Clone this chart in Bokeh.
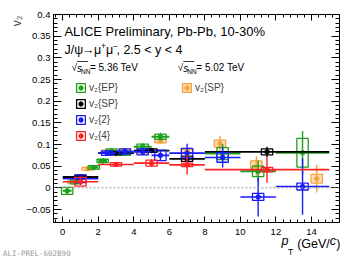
import numpy as np
from bokeh.plotting import figure
from bokeh.models import (Range1d, LinearAxis, FixedTicker, Label, Span, Legend,
                          LegendItem, CustomJSTickFormatter, Title)
from bokeh.embed import file_html
from bokeh.resources import INLINE

# ---------------- data ----------------
# v2{EP}, 5.36 TeV (green)
ep_x = [0.25, 0.75, 1.75, 2.25, 2.75, 3.5, 4.5, 5.5, 9.0, 11.0, 13.5]
ep_y = [-0.007, 0.014, 0.047, 0.062, 0.085, 0.080, 0.095, 0.118, 0.079, 0.038, 0.081]
ep_xerr = [0.25, 0.25, 0.25, 0.25, 0.25, 0.5, 0.5, 0.5, 1.0, 1.0, 1.5]
ep_stat = [0.009, 0.006, 0.005, 0.005, 0.006, 0.006, 0.008, 0.009, 0.022, 0.025, 0.05]
ep_syst = [0.008, 0.005, 0.004, 0.004, 0.005, 0.005, 0.006, 0.006, 0.014, 0.012, 0.033]

# v2{SP}, 5.36 TeV (black)
sp_x = [1.0, 3.0, 5.0, 7.0, 11.5]
sp_y = [0.025, 0.080, 0.086, 0.067, 0.083]
sp_xerr = [1.0, 1.0, 1.0, 1.0, 3.5]
sp_stat = [0.004, 0.004, 0.005, 0.010, 0.012]
sp_syst = [0.004, 0.004, 0.004, 0.006, 0.007]

# v2{2}, 5.36 TeV (blue)
c2_x = [1.0, 2.5, 3.5, 4.5, 5.5, 7.0, 9.0, 11.0, 13.5]
c2_y = [0.021, 0.080, 0.084, 0.083, 0.075, 0.080, 0.070, -0.021, 0.003]
c2_xerr = [1.0, 0.5, 0.5, 0.5, 0.5, 1.0, 1.0, 1.0, 1.5]
c2_stat = [0.006, 0.005, 0.006, 0.008, 0.012, 0.022, 0.023, 0.045, 0.065]
c2_syst = [0.009, 0.005, 0.006, 0.007, 0.012, 0.011, 0.011, 0.008, 0.008]

# v2{4}, 5.36 TeV (red)
c4_x = [1.0, 3.0, 5.0, 7.0, 11.5]
c4_y = [0.014, 0.054, 0.057, 0.053, 0.042]
c4_xerr = [1.0, 1.0, 1.0, 1.0, 3.5]
c4_stat = [0.008, 0.006, 0.009, 0.022, 0.030]
c4_syst = [0.010, 0.004, 0.007, 0.004, 0.005]

# v2{SP}, 5.02 TeV (orange)
old_x = [0.6, 1.4, 2.5, 3.5, 4.5, 5.5, 7.0, 8.85, 10.9, 14.3]
old_y = [0.013, 0.044, 0.083, 0.086, 0.082, 0.108, 0.085, 0.102, 0.050, 0.021]
old_stat = [0.005, 0.004, 0.004, 0.005, 0.006, 0.006, 0.008, 0.018, 0.023, 0.032]
old_syst = [0.003, 0.003, 0.004, 0.004, 0.004, 0.004, 0.004, 0.008, 0.012, 0.010]

x_ticks = [0, 2, 4, 6, 8, 10, 12, 14]
x_tick_labels = ["0", "2", "4", "6", "8", "10", "12", "14"]
y_ticks = [-0.05, 0.0, 0.05, 0.1, 0.15, 0.2, 0.25, 0.3, 0.35, 0.4]
y_tick_labels = ["\u22120.05", "0", "0.05", "0.1", "0.15", "0.2", "0.25", "0.3", "0.35", "0.4"]

# ---------------- styling ----------------
FONT = "Liberation Sans"
GREEN = "#1f9f1f"
BLACK = "#000000"
BLUE = "#1a1aff"
RED = "#ff2222"
ORANGE = "#f6a33e"
BOX_W = 0.64

FL, FT, FR, FB = 53, 14, 339, 222   # frame edges (canvas px)
W, H = 357, 262


def X(px):  # canvas pixel -> data (annotation placement only)
    return (px - 62.3) / 17.76


def Y(py):
    return (187.3 - py) / 433.3


p = figure(width=W, height=H, output_backend="svg", toolbar_location=None,
           x_range=Range1d(-0.52, 15.58), y_range=Range1d(-0.08, 0.4),
           x_axis_location=None, y_axis_location=None,
           min_border_left=FL, min_border_right=W - FR, min_border_top=FT,
           min_border_bottom=H - FB)
for g in p.grid:
    g.visible = False
p.outline_line_color = "black"
p.background_fill_color = "white"
p.border_fill_color = "white"

x_minor = [round(v, 2) for v in np.arange(-0.4, 15.6, 0.4)]
y_minor = [round(v, 3) for v in np.arange(-0.08, 0.4001, 0.01)]
blank = CustomJSTickFormatter(code="return ''")


def make_axis(ticks, minor, labels, tick_len, show):
    ax = LinearAxis(ticker=FixedTicker(ticks=ticks, minor_ticks=minor))
    if show:
        ax.major_label_overrides = dict(zip(ticks, labels))
        ax.major_label_text_font_size = "9.5px"
    else:
        ax.formatter = blank
        ax.major_label_standoff = 0
        ax.major_label_text_font_size = "0px"
    ax.major_tick_in = tick_len
    ax.major_tick_out = 0
    ax.minor_tick_in = tick_len // 2
    ax.minor_tick_out = 0
    ax.axis_line_color = "black"
    ax.major_tick_line_color = "black"
    ax.minor_tick_line_color = "black"
    ax.major_label_text_font = FONT
    ax.major_label_text_color = "black"
    return ax


def text_axis(centers_px, texts, size, style, standoff):
    """An invisible extra bottom axis whose tick labels spell a piece of the x title."""
    ax = LinearAxis(ticker=FixedTicker(ticks=[X(c) for c in centers_px], minor_ticks=[]),
                    formatter=CustomJSTickFormatter(args=dict(labels=texts),
                                                    code="return labels[index]"))
    ax.axis_line_color = None
    ax.major_tick_line_color = None
    ax.minor_tick_line_color = None
    ax.major_tick_in = 0
    ax.major_tick_out = 0
    ax.minor_tick_in = 0
    ax.minor_tick_out = 0
    ax.major_label_standoff = standoff
    ax.major_label_text_font = FONT
    ax.major_label_text_font_size = size
    ax.major_label_text_font_style = style
    ax.major_label_text_color = "black"
    return ax


xb = make_axis(x_ticks, x_minor, x_tick_labels, 6, True)
xb.major_label_standoff = 6
xt = make_axis(x_ticks, x_minor, x_tick_labels, 6, False)
yl = make_axis(y_ticks, y_minor, y_tick_labels, 8, True)
yl.major_label_standoff = 3
yr = make_axis(y_ticks, y_minor, y_tick_labels, 8, False)
p.add_layout(xb, "below")
# x title: "p_T (GeV/c)" with italic p and c, subscript T
p.add_layout(text_axis([284.5, 332.5], ["p", "c"], "12.5px", "italic", -4), "below")
p.add_layout(text_axis([313.0, 337.8], ["(GeV/", ")"], "12.5px", "normal", -14), "below")
p.add_layout(text_axis([290.0], ["T"], "8.5px", "normal", -7), "below")
p.add_layout(xt, "above")
p.add_layout(yl, "left")
p.add_layout(yr, "right")

# y-axis title (rotated, at the top)
p.add_layout(Title(text="v\u2082", align="right", text_font=FONT,
                   text_font_size="12px", text_font_style="normal",
                   standoff=0, offset=1), "left")

# watermark: data-positioned label hosted in the top side panel (not clipped)
p.add_layout(Label(x=X(2.5), y=Y(253), text="ALI-PREL-602890",
                   text_font="DejaVu Sans Mono", text_font_size="7.5px",
                   text_color="#9a9a9a", text_align="left",
                   text_baseline="middle"), "above")

p.add_layout(Span(location=0, dimension="width", line_color="#9a9a9a",
                  line_dash="2 2", line_width=1))


def a(v):
    return np.asarray(v, dtype=float)


def series(x, y, stat, syst, color, xerr=None, fill_alpha=0.0, hw=1.6):
    x, y, stat, syst = a(x), a(y), a(stat), a(syst)
    if xerr is not None:
        xe = a(xerr)
        p.segment(x0=x - xe, y0=y, x1=x + xe, y1=y, line_color=color, line_width=hw)
    p.segment(x0=x, y0=y - stat, x1=x, y1=y + stat, line_color=color, line_width=1.4)
    box = p.rect(x=x, y=y, width=BOX_W, height=2 * syst, line_color=color,
                 line_width=1.3, fill_color=color, fill_alpha=fill_alpha)
    dot = p.scatter(x=x, y=y, size=4.5, marker="circle", fill_color=color,
                    line_color=color)
    return box, dot


o_box, o_dot = series(old_x, old_y, old_stat, old_syst, ORANGE, fill_alpha=0.35)
ep_box, ep_dot = series(ep_x, ep_y, ep_stat, ep_syst, GREEN, ep_xerr, hw=2)
sp_box, sp_dot = series(sp_x, sp_y, sp_stat, sp_syst, BLACK, sp_xerr, hw=1.8)
c2_box, c2_dot = series(c2_x, c2_y, c2_stat, c2_syst, BLUE, c2_xerr)
c4_box, c4_dot = series(c4_x, c4_y, c4_stat, c4_syst, RED, c4_xerr)

leg_style = dict(orientation="vertical", glyph_width=11, glyph_height=11,
                 label_height=11, label_standoff=3, spacing=5, padding=0, margin=0,
                 border_line_color=None, background_fill_alpha=0,
                 label_text_font=FONT, label_text_font_size="10px")
leg1 = Legend(items=[LegendItem(label="v\u2082{EP}", renderers=[ep_box, ep_dot]),
                     LegendItem(label="v\u2082{SP}", renderers=[sp_box, sp_dot]),
                     LegendItem(label="v\u2082{2}", renderers=[c2_box, c2_dot]),
                     LegendItem(label="v\u2082{4}", renderers=[c4_box, c4_dot])],
              location=(22, 81), **leg_style)
leg2 = Legend(items=[LegendItem(label="v\u2082{SP}", renderers=[o_box, o_dot])],
              location=(128, 129), **leg_style)
p.add_layout(leg1)
p.add_layout(leg2)


def lab(text, px, py, size, align="left", style="normal", color="black",
        font=FONT, angle=0.0):
    p.add_layout(Label(x=X(px), y=Y(py), text=text, text_font=font,
                       text_font_size=size, text_align=align,
                       text_baseline="middle", text_font_style=style,
                       text_color=color, angle=angle))


lab("ALICE Preliminary, Pb-Pb, 10-30%", 64, 30.5, "13px")
lab("J/\u03c8", 64, 49, "12.5px")
lab("\u2192", 81.5, 49, "12.5px")
lab("\u03bc", 93.5, 49, "12.5px")
lab("+", 100.5, 45, "8.5px")
lab("\u03bc", 105.5, 49, "12.5px")
lab("\u2212", 112.5, 45, "8.5px")
lab(", 2.5 < y < 4", 116, 49, "12.5px")

for dx, energy in [(0, "5.36"), (106.3, "5.02")]:
    lab("\u221a", 71 + dx, 67, "10px")
    lab("s", 76.5 + dx, 67.5, "10px", style="italic")
    lab("NN", 80.5 + dx, 70.5, "6.5px")
    lab("= " + energy + " TeV", 89.5 + dx, 67, "10px")
    p.segment(x0=[X(76.5 + dx)], y0=[Y(61)], x1=[X(87.5 + dx)], y1=[Y(61)],
              line_color="black", line_width=0.8)

open("out.html", "w").write(file_html(p, INLINE))
